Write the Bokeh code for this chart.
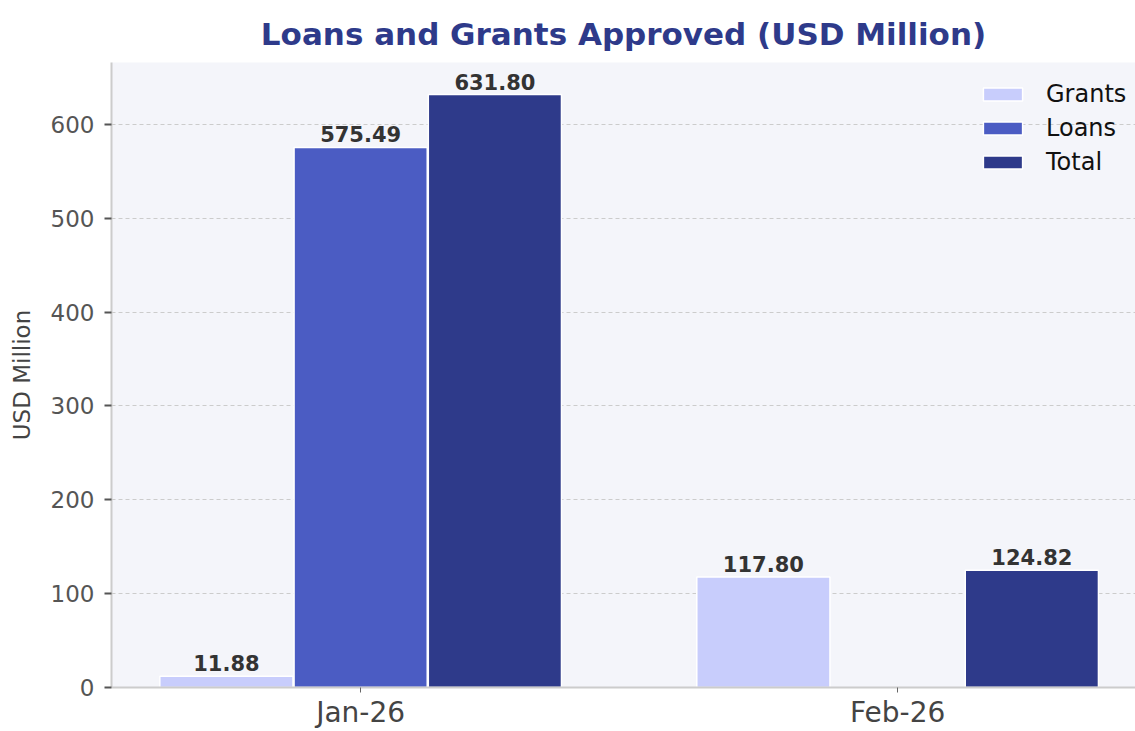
import math
from bokeh.plotting import figure
from bokeh.models import ColumnDataSource, Range1d, FixedTicker, Legend, LegendItem
from bokeh.core.properties import value
from bokeh.embed import file_html
from bokeh.resources import INLINE

months = ["Jan-26", "Feb-26"]
series = ["Grants", "Loans", "Total"]
grants = [11.88, 117.80]
loans = [575.49, float("nan")]
total = [631.80, 124.82]
colors = ["#c8cdfc", "#4b5cc3", "#2e3a8a"]
y_ticks = [0, 100, 200, 300, 400, 500, 600]
title_text = "Loans and Grants Approved (USD Million)"

FONT = "DejaVu Sans"

p = figure(width=1135, height=731,
           x_range=Range1d(-0.464, 1.443), y_range=Range1d(0, 666),
           output_backend="svg", toolbar_location=None,
           min_border_left=111, min_border_right=0,
           min_border_top=62, min_border_bottom=43)

p.background_fill_color = "#f4f5fa"
p.border_fill_color = "white"
p.outline_line_color = None

p.title.text = title_text
p.title.align = "center"
p.title.text_font = FONT
p.title.text_font_size = "31px"
p.title.text_font_style = "bold"
p.title.text_color = "#2e3a8a"
p.title.standoff = 22

xs = list(range(len(months)))
offsets = [-0.25, 0.0, 0.25]
values = [grants, loans, total]
bw = 0.248

items = []
for name, vals, off, col in zip(series, values, offsets, colors):
    src = ColumnDataSource(dict(x=[x + off for x in xs], top=vals))
    r = p.vbar(x="x", top="top", width=bw, bottom=0, source=src,
               fill_color=col, line_color="white", line_width=1.5)
    items.append(LegendItem(label=name, renderers=[r]))
    lx, ly, lt = [], [], []
    for x, v in zip(xs, vals):
        if v is not None and not math.isnan(v):
            lx.append(x + off)
            ly.append(v)
            lt.append(f"{v:.2f}")
    lsrc = ColumnDataSource(dict(x=lx, y=ly, t=lt))
    p.text(x="x", y="y", text="t", source=lsrc, text_align="center",
           text_baseline="bottom", y_offset=-5,
           text_font=value(FONT), text_font_size="21px",
           text_font_style="bold", text_color="#333333")

legend = Legend(items=items, location=(867, 511))
legend.background_fill_alpha = 0
legend.border_line_color = None
legend.label_text_font = FONT
legend.label_text_font_size = "24px"
legend.label_text_color = "#111111"
legend.glyph_width = 49
legend.glyph_height = 16
legend.label_height = 26
legend.spacing = 6
legend.label_standoff = 19
legend.margin = 0
legend.padding = 0
p.add_layout(legend)

# axes
p.xaxis.ticker = FixedTicker(ticks=xs)
p.xaxis.major_label_overrides = {i: m for i, m in enumerate(months)}
p.xaxis.major_label_text_font = FONT
p.xaxis.major_label_text_font_size = "28px"
p.xaxis.major_label_text_color = "#444444"
p.xaxis.axis_line_color = "#cccccc"
p.xaxis.axis_line_width = 2
p.xaxis.major_tick_line_color = "#666666"
p.xaxis.major_tick_out = 5
p.xaxis.major_tick_in = 0
p.xaxis.minor_tick_line_color = None
p.xaxis.major_label_standoff = 3

p.yaxis.ticker = FixedTicker(ticks=y_ticks)
p.yaxis.axis_label = "USD Million"
p.yaxis.axis_label_text_font = FONT
p.yaxis.axis_label_text_font_size = "23px"
p.yaxis.axis_label_text_font_style = "normal"
p.yaxis.axis_label_text_color = "#444444"
p.yaxis.axis_label_standoff = 13
p.yaxis.major_label_text_font = FONT
p.yaxis.major_label_text_font_size = "23px"
p.yaxis.major_label_text_color = "#555555"
p.yaxis.axis_line_color = "#cccccc"
p.yaxis.axis_line_width = 2
p.yaxis.major_tick_line_color = "#555555"
p.yaxis.major_tick_line_width = 2
p.yaxis.major_tick_out = 7
p.yaxis.major_tick_in = 0
p.yaxis.minor_tick_line_color = None
p.yaxis.major_label_standoff = 10

p.xgrid.grid_line_color = None
p.ygrid.grid_line_color = "#cccccc"
p.ygrid.grid_line_dash = "4 3"
p.ygrid.grid_line_width = 1

open("out.html", "w").write(file_html(p, INLINE))
